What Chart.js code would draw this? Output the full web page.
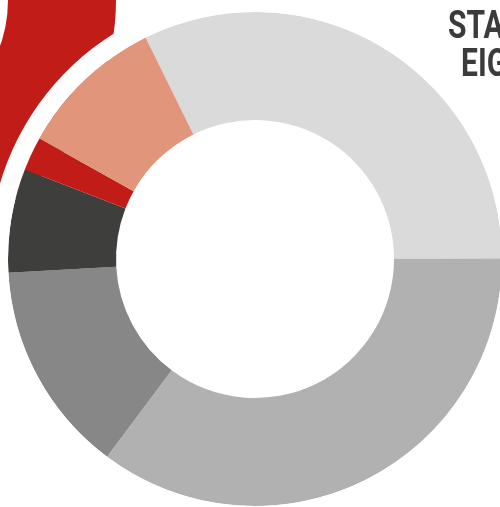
<!DOCTYPE html>
<html>
<head>
<meta charset="utf-8">
<script src="https://cdn.jsdelivr.net/npm/chart.js@4.4.1/dist/chart.umd.min.js"></script>
<style>
  html, body { margin: 0; padding: 0; background: #fff; }
  body { width: 500px; height: 507px; overflow: hidden; position: relative; }
  canvas { position: absolute; }
  #sideRing { left: -378px; top: -247px; }
  #mainRing { left: -11px; top: -7px; }
  .title {
    position: absolute; white-space: nowrap;
    font-family: Roboto, "Liberation Sans", sans-serif;
    font-weight: bold; font-size: 39px; line-height: 39px;
    color: #3b3b3b;
    transform: scaleX(0.77); transform-origin: left top;
  }
</style>
</head>
<body>
<canvas id="sideRing" width="494" height="494"></canvas>
<canvas id="mainRing" width="532" height="532"></canvas>
<div class="title" style="left:448px; top:6px;">STA</div>
<div class="title" style="left:461px; top:44px;">EIG</div>
<script>
// shares of the main ring, clockwise from the light grey slice (percent)
const shares = [32.3, 35.3, 13.9, 6.8, 2.2, 9.6];
const shareColors = ['#dadada', '#b1b1b1', '#878787', '#3e3e3c', '#c21c19', '#e1957b'];
const startAngle = -26.3;

// neighbouring ring, only partly visible on the left
const sideShares = [100];
const sideColors = ['#c21c19'];

const noChrome = {
  responsive: false,
  animation: false,
  events: [],
  plugins: { legend: { display: false }, tooltip: { enabled: false }, title: { display: false } },
  layout: { padding: 0 }
};

new Chart(document.getElementById('sideRing').getContext('2d'), {
  type: 'doughnut',
  data: {
    datasets: [{ data: sideShares, backgroundColor: sideColors, borderWidth: 0 }]
  },
  options: Object.assign({ cutout: 139 }, noChrome)
});

// outer white band keeps the neighbour ring off the main one
new Chart(document.getElementById('mainRing').getContext('2d'), {
  type: 'doughnut',
  data: {
    datasets: [
      { data: [1], backgroundColor: ['#ffffff'], borderWidth: 0, weight: 19 },
      { data: shares, backgroundColor: shareColors, borderWidth: 0, weight: 108 }
    ]
  },
  options: Object.assign({ cutout: 139, rotation: startAngle }, noChrome)
});
</script>
</body>
</html>
